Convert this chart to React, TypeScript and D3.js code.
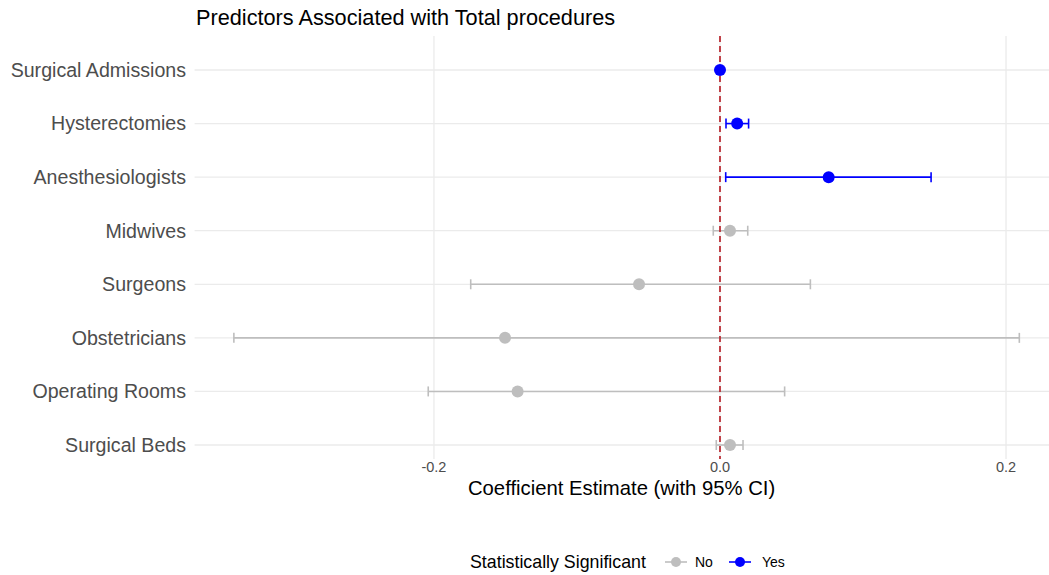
import React from "react";
import * as d3 from "d3";

const predictors = [
  "Surgical Admissions",
  "Hysterectomies",
  "Anesthesiologists",
  "Midwives",
  "Surgeons",
  "Obstetricians",
  "Operating Rooms",
  "Surgical Beds",
];
const estimates = [0.0, 0.012, 0.076, 0.007, -0.0566, -0.1503, -0.1415, 0.007];
const lowerCI = [-0.0004, 0.0042, 0.004, -0.0047, -0.1743, -0.3399, -0.204, -0.0026];
const upperCI = [0.0004, 0.020, 0.1476, 0.0194, 0.0632, 0.2093, 0.0452, 0.0161];
const significant = ["Yes", "Yes", "Yes", "No", "No", "No", "No", "No"];
const xTicks = [-0.2, 0.0, 0.2];

const W = 1049;
const H = 575;
const FONT = "'Liberation Sans', Arial, Helvetica, sans-serif";
const colorFor = (s: string) => (s === "Yes" ? "#0000FF" : "#BEBEBE");

export default function App() {
  const panelLeft = 194.6;
  const panelRight = 1058.6;
  const panelTop = 36;
  const panelBottom = 459;

  const dmin = d3.min(lowerCI) as number;
  const dmax = d3.max(upperCI) as number;
  const span = dmax - dmin;
  const x = d3
    .scaleLinear()
    .domain([dmin - 0.05 * span, dmax + 0.05 * span])
    .range([panelLeft, panelRight]);
  const y = d3.scalePoint<string>().domain(predictors).range([70, 445]).padding(0);

  const rows = predictors.map((p, i) => ({
    p,
    est: estimates[i],
    lo: lowerCI[i],
    hi: upperCI[i],
    sig: significant[i],
  }));

  const capH = 5;
  const fmt = (t: number) => d3.format(".1f")(t).replace("\u2212", "-");

  return (
    <svg
      width={W}
      height={H}
      style={{ position: "absolute", left: 0, top: 0, background: "#fff" }}
      fontFamily={FONT}
    >
      <rect x={0} y={0} width={W} height={H} fill="#fff" />
      {/* title */}
      <text x={196} y={25} fontSize={21.7} fill="#000">
        Predictors Associated with Total procedures
      </text>

      {/* gridlines */}
      {predictors.map((p) => (
        <line
          key={"hg" + p}
          x1={panelLeft}
          x2={panelRight}
          y1={y(p)}
          y2={y(p)}
          stroke="#EBEBEB"
          strokeWidth={1.3}
        />
      ))}
      {xTicks.map((t) => (
        <line
          key={"vg" + t}
          x1={x(t)}
          x2={x(t)}
          y1={panelTop}
          y2={panelBottom}
          stroke="#EBEBEB"
          strokeWidth={1.3}
        />
      ))}

      {/* error bars */}
      {rows.map((r) => {
        const yy = y(r.p) as number;
        const c = colorFor(r.sig);
        return (
          <g key={"eb" + r.p} stroke={c} strokeWidth={1.6}>
            <line x1={x(r.lo)} x2={x(r.hi)} y1={yy} y2={yy} />
            <line x1={x(r.lo)} x2={x(r.lo)} y1={yy - capH} y2={yy + capH} />
            <line x1={x(r.hi)} x2={x(r.hi)} y1={yy - capH} y2={yy + capH} />
          </g>
        );
      })}

      {/* reference line */}
      <line
        x1={x(0)}
        x2={x(0)}
        y1={panelTop}
        y2={panelBottom}
        stroke="#B8232B"
        strokeWidth={1.7}
        strokeDasharray="6,4"
      />

      {/* points */}
      {rows.map((r) => (
        <circle
          key={"pt" + r.p}
          cx={x(r.est)}
          cy={y(r.p)}
          r={6}
          fill={colorFor(r.sig)}
        />
      ))}

      {/* y axis labels */}
      {predictors.map((p) => (
        <text
          key={"yl" + p}
          x={186}
          y={(y(p) as number) + 6.8}
          fontSize={19.6}
          fill="#4D4D4D"
          textAnchor="end"
        >
          {p}
        </text>
      ))}

      {/* x tick labels */}
      {xTicks.map((t) => (
        <text
          key={"xl" + t}
          x={x(t)}
          y={472}
          fontSize={14.5}
          fill="#4D4D4D"
          textAnchor="middle"
        >
          {fmt(t)}
        </text>
      ))}

      {/* x axis title */}
      <text
        x={(panelLeft + panelRight) / 2 - 5}
        y={495}
        fontSize={20.3}
        fill="#000"
        textAnchor="middle"
      >
        Coefficient Estimate (with 95% CI)
      </text>

      {/* legend */}
      <g>
        <text x={470} y={568} fontSize={17.8} fill="#000">
          Statistically Significant
        </text>
        {[
          { lab: "No", cx: 676, tx: 695 },
          { lab: "Yes", cx: 740, tx: 762 },
        ].map((k) => (
          <g key={"lg" + k.lab}>
            <line
              x1={k.cx - 11}
              x2={k.cx + 11}
              y1={562}
              y2={562}
              stroke={colorFor(k.lab)}
              strokeWidth={1.6}
            />
            <circle cx={k.cx} cy={562} r={5} fill={colorFor(k.lab)} />
            <text x={k.tx} y={567} fontSize={14} fill="#000">
              {k.lab}
            </text>
          </g>
        ))}
      </g>
    </svg>
  );
}
